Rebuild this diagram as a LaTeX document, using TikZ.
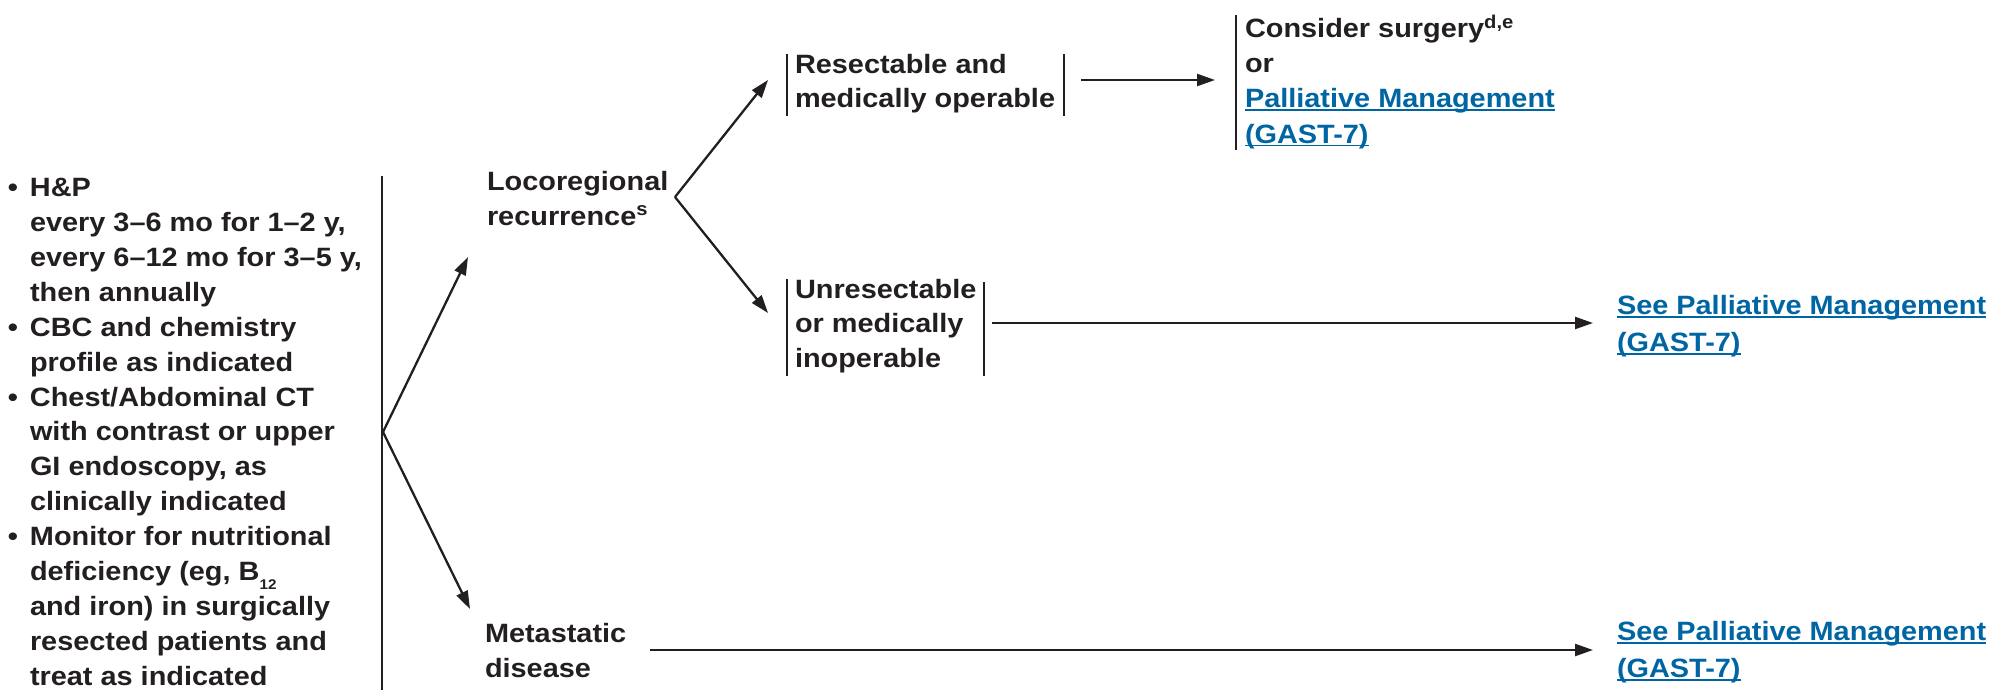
\documentclass[tikz,border=0pt]{standalone}
\usepackage{fontspec}
\setmainfont{Liberation Sans}
\newfontfamily\widefont{Liberation Sans}[FakeStretch=1.09]
\usetikzlibrary{arrows.meta}
\definecolor{ink}{HTML}{231F20}
\definecolor{linkblue}{HTML}{0065A3}
\newcommand\lk[1]{{\color{linkblue}\setbox0\hbox{#1}\rlap{\rule[-3.5pt]{\wd0}{1.8pt}}\box0}}
\newcommand\bul{\llap{\textbullet\hspace{12pt}}}
\begin{document}
\begin{tikzpicture}[x=1pt,y=-1pt,
  txt/.style={inner sep=0pt,outer sep=0pt,anchor=base west,align=left,text=ink},
  wide/.style={txt,font=\widefont\bfseries\fontsize{26.5}{34.5}\selectfont},
  conn/.style={draw=ink,line width=2.3pt,-{Triangle[length=18pt,width=12pt]}},
  bar/.style={draw=ink,line width=2.3pt}]
\useasboundingbox (0,0) rectangle (1997,690);

% left block (anchored at the baseline of its last line)
\node[wide,font=\widefont\bfseries\fontsize{26.5}{34.86}\selectfont] (lb) at (30,685) {\bul H\&P\\
every 3–6 mo for 1–2 y,\\
every 6–12 mo for 3–5 y,\\
then annually\\
\bul CBC and chemistry\\
profile as indicated\\
\bul Chest/Abdominal CT\\
with contrast or upper\\
GI endoscopy, as\\
clinically indicated\\
\bul Monitor for nutritional\\
deficiency (eg, B\raisebox{-9pt}{\fontsize{14}{14}\selectfont 12}\\
and iron) in surgically\\
resected patients and\\
treat as indicated};
\coordinate (lbtop) at (382,176);
\coordinate (lbbot) at (382,690);
\draw[bar] (lbtop) -- (lbbot);

% middle nodes
\node[wide,font=\widefont\bfseries\fontsize{26.5}{35}\selectfont] (loco) at (487,225) {Locoregional\\recurrence\textsuperscript{s}};
\node[wide] (meta) at (485,677) {Metastatic\\disease};
\node[wide] (res) at (795,108) {Resectable and\\medically operable};
\node[wide] (unres) at (795,367) {Unresectable\\or medically\\inoperable};

% right nodes
\node[wide,font=\widefont\bfseries\fontsize{26.5}{35.3}\selectfont] (cons) at (1245,143)
  {Consider surgery\textsuperscript{d,e}\\or\\\lk{Palliative Management}\\\lk{(GAST-7)}};
\node[wide,font=\widefont\bfseries\fontsize{26.5}{36.5}\selectfont] (see1) at (1617,351)
  {\lk{See Palliative Management}\\\lk{(GAST-7)}};
\node[wide,font=\widefont\bfseries\fontsize{26.5}{37}\selectfont] (see2) at (1617,677)
  {\lk{See Palliative Management}\\\lk{(GAST-7)}};

% bars
\draw[bar] (787,54) -- (787,116);
\draw[bar] (1064,54) -- (1064,116);
\draw[bar] (787,279) -- (787,376);
\draw[bar] (984,282) -- (984,376);
\draw[bar] (1236,15) -- (1236,150);

% connectors
\coordinate (j1) at (383,432);
\coordinate (t1) at (468,257);
\coordinate (t2) at (470,609);
\draw[conn] (j1) -- (t1);
\draw[conn] (j1) -- (t2);

\coordinate (j2) at (675,197);
\coordinate (t3) at (768,80);
\coordinate (t4) at (768,313);
\draw[conn] (j2) -- (t3);
\draw[conn] (j2) -- (t4);

\coordinate (r1) at (1081,80);
\coordinate (r2) at (1215,80);
\draw[conn] (r1) -- (r2);

\coordinate (u1) at (992,323);
\coordinate (u2) at (1593,323);
\draw[conn] (u1) -- (u2);

\coordinate (m1) at (650,650);
\coordinate (m2) at (1593,650);
\draw[conn] (m1) -- (m2);
\end{tikzpicture}
\end{document}
